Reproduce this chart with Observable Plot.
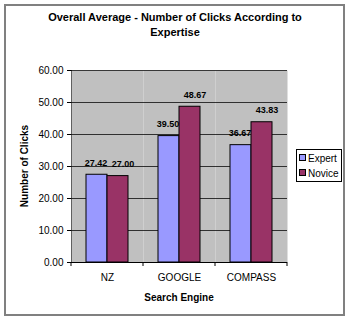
<!DOCTYPE html>
<html><head><meta charset="utf-8">
<script src="https://cdn.jsdelivr.net/npm/d3@7"></script>
<script src="https://cdn.jsdelivr.net/npm/@observablehq/plot@0.6"></script>
<style>
body{margin:0;background:#fff;font-family:"Liberation Sans",Arial,sans-serif;}
#wrap{position:relative;width:350px;height:321px;overflow:hidden;background:#fff}
#wrap svg{position:absolute;left:0;top:0}
#border{position:absolute;left:4px;top:4px;width:337px;height:308px;border:2px solid #808080;pointer-events:none}
#legend{position:absolute;left:296px;top:149px;width:44px;height:31px;border:1px solid #000;background:#fff;font-size:10px;color:#000}
#legend .item{position:absolute;left:2px;height:12px;line-height:12px;white-space:nowrap}
#legend .sw{display:inline-block;width:5px;height:5px;border:1px solid #000;margin-right:2px;vertical-align:1px}
</style>
</head><body>
<div id="wrap"><div id="border"></div></div>
<script>
const engines = ["NZ", "GOOGLE", "COMPASS"];
const series = ["Expert", "Novice"];
const expert = [27.42, 39.50, 36.67];
const novice = [27.00, 48.67, 43.83];
const colors = ["#9999FF", "#993366"];
const yTicks = [0, 10, 20, 30, 40, 50, 60];
const titleLines = ["Overall Average - Number of Clicks According to", "Expertise"];
const yLabel = "Number of Clicks";
const xLabel = "Search Engine";

const data = [];
engines.forEach((e, i) => {
  data.push({engine: e, series: series[0], value: expert[i]});
  data.push({engine: e, series: series[1], value: novice[i]});
});

const labelOpts = {fx: "engine", x: "series", y: "value", text: d => d.value.toFixed(2), dy: -9, lineAnchor: "bottom", fontWeight: "bold", fontSize: 9};

const plot = Plot.plot({
  width: 350, height: 321,
  marginLeft: 70, marginRight: 62, marginTop: 70, marginBottom: 59,
  style: {fontFamily: "Liberation Sans, Arial, sans-serif", fontSize: "10px", color: "#000", background: "transparent", overflow: "visible"},
  fx: {domain: engines, padding: 0, label: null, tickSize: 0, tickPadding: 11},
  x: {domain: series, paddingInner: 0, paddingOuter: 0.7, axis: null},
  y: {domain: [0, 60], ticks: yTicks, tickFormat: d => d.toFixed(2), label: null, tickSize: 4, tickPadding: 4, line: true},
  color: {domain: series, range: colors},
  marks: [
    Plot.frame({fill: "#C0C0C0", stroke: null}),
    Plot.gridY(yTicks, {stroke: "#000", strokeOpacity: 0.75}),
    Plot.barY(data, {fx: "engine", x: "series", y: "value", fill: "series", stroke: "#000", strokeWidth: 1}),
    Plot.ruleY([0], {stroke: "#000"}),
    Plot.text(data.filter(d => d.series === series[0]), {...labelOpts, dx: -1}),
    Plot.text(data.filter(d => d.series === series[1]), {...labelOpts, dx: 5})
  ]
});
document.getElementById("wrap").insertBefore(plot, document.getElementById("border"));

const svg = d3.select(plot);
titleLines.forEach((t, i) => {
  svg.append("text").attr("x", 175).attr("y", 17 + i * 15)
    .attr("text-anchor", "middle").attr("dominant-baseline", "central")
    .attr("font-weight", "bold").attr("font-size", 11).attr("fill", "#000").text(t);
});
svg.append("text").attr("transform", "translate(24,166) rotate(-90)")
  .attr("text-anchor", "middle").attr("dominant-baseline", "central")
  .attr("font-weight", "bold").attr("font-size", 10).attr("fill", "#000").text(yLabel);
svg.append("text").attr("x", 179).attr("y", 297)
  .attr("text-anchor", "middle").attr("dominant-baseline", "central")
  .attr("font-weight", "bold").attr("font-size", 10).attr("fill", "#000").text(xLabel);

const fx = plot.scale("fx");
const starts = engines.map((e, i) => fx.apply ? fx.apply(e) : fx.range[0] + i * fx.step);
const bounds = starts.concat([starts[starts.length - 1] + fx.bandwidth]);
const y0 = plot.scale("y").apply(0);
bounds.forEach(b => {
  svg.append("line").attr("x1", b).attr("x2", b).attr("y1", y0).attr("y2", y0 + 4).attr("stroke", "#000");
});

const leg = d3.select("#wrap").append("div").attr("id", "legend");
series.forEach((s, i) => {
  const it = leg.append("div").attr("class", "item").style("top", (3 + i * 15) + "px");
  it.append("span").attr("class", "sw").style("background", colors[i]);
  it.append("span").text(s);
});
</script>
</body></html>
